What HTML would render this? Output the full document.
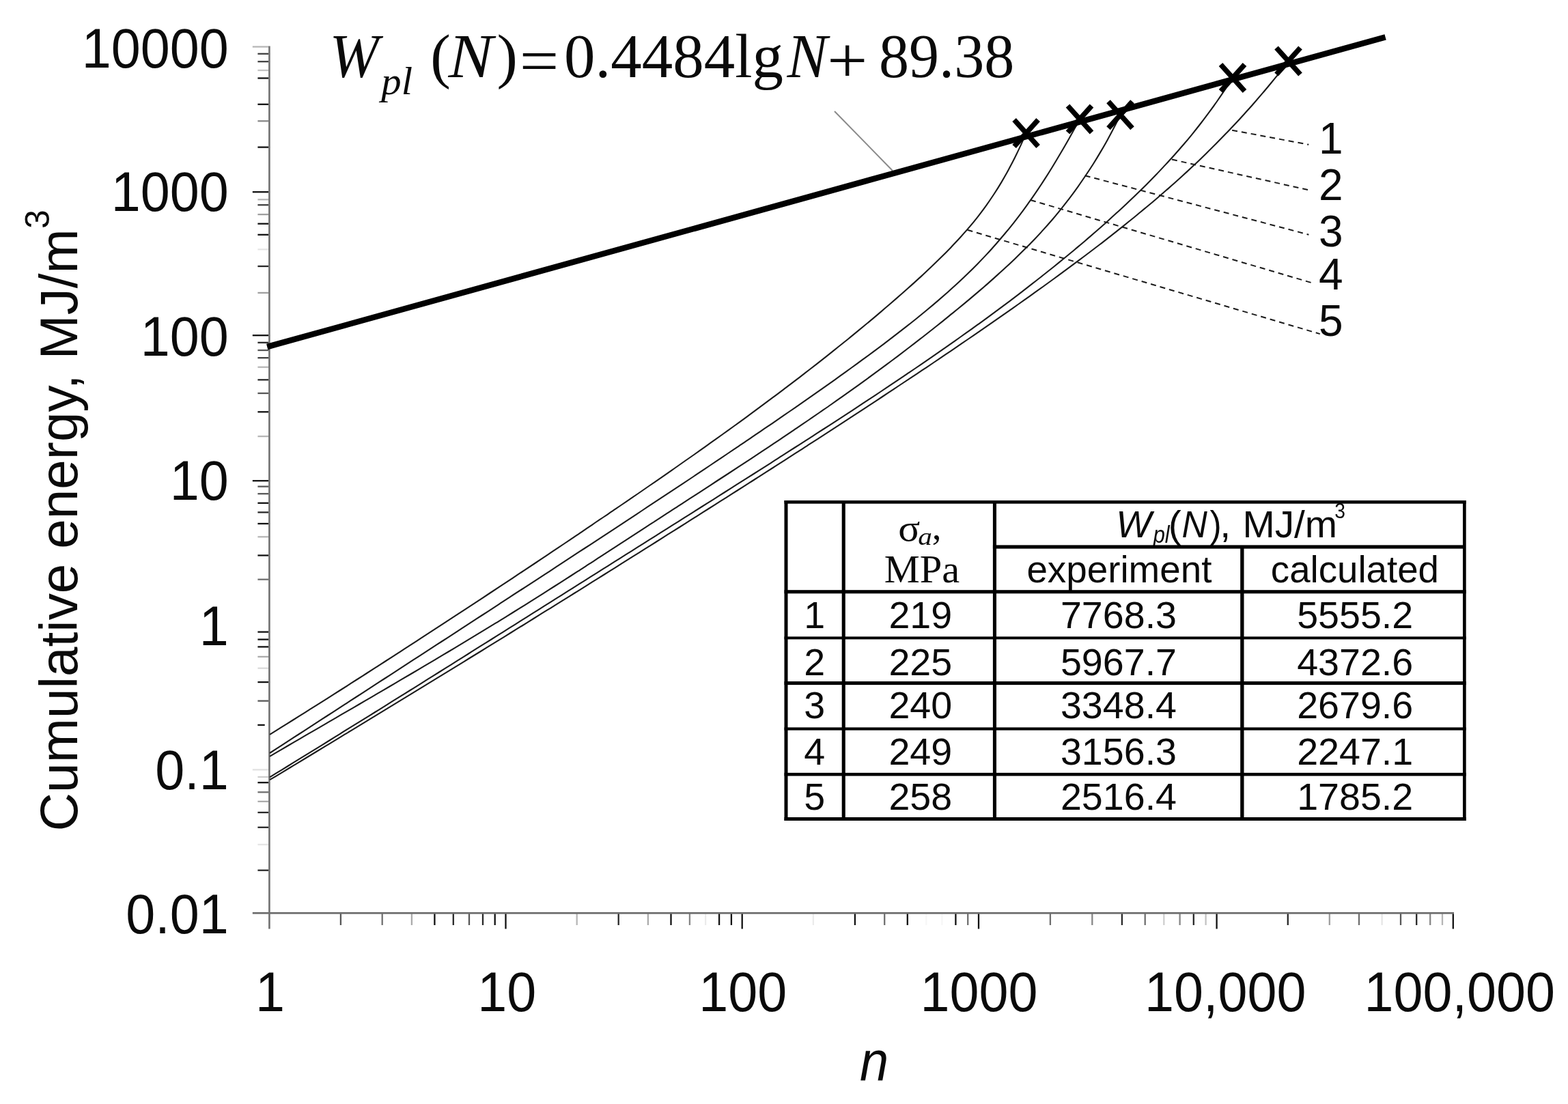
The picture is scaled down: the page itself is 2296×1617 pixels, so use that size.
<!DOCTYPE html>
<html lang="en">
<head>
<meta charset="utf-8">
<title>Cumulative energy vs number of cycles</title>
<style>
html,body{margin:0;padding:0;background:#fff;}
body{width:2296px;height:1617px;}
svg{display:block;}
text{fill:#0a0a0a;}
</style>
</head>
<body>
<svg width="2296" height="1617" viewBox="0 0 2296 1617">
<defs>
<clipPath id="hdr"><rect x="1459" y="737" width="683" height="62"/></clipPath>
</defs>
<rect width="2296" height="1617" fill="#fff"/>
<line x1="369.8" y1="68.5" x2="393.3" y2="68.5" stroke="#111" stroke-width="2.3" opacity="0.3"/>
<line x1="377.4" y1="78.8" x2="393.3" y2="78.8" stroke="#111" stroke-width="2.3" opacity="0.8"/>
<line x1="377.4" y1="90.2" x2="393.3" y2="90.2" stroke="#111" stroke-width="2.3" opacity="0.8"/>
<line x1="377.4" y1="103" x2="393.3" y2="103" stroke="#111" stroke-width="2.3" opacity="0.25"/>
<line x1="377.4" y1="114.5" x2="393.3" y2="114.5" stroke="#111" stroke-width="2.3" opacity="1"/>
<line x1="377.4" y1="152.8" x2="393.3" y2="152.8" stroke="#111" stroke-width="2.3" opacity="1"/>
<line x1="377.4" y1="177.3" x2="393.3" y2="177.3" stroke="#111" stroke-width="2.3" opacity="0.5"/>
<line x1="377.4" y1="215.6" x2="393.3" y2="215.6" stroke="#111" stroke-width="2.3" opacity="1"/>
<line x1="369.8" y1="281.2" x2="393.3" y2="281.2" stroke="#111" stroke-width="2.3" opacity="1"/>
<line x1="377.4" y1="292.3" x2="393.3" y2="292.3" stroke="#111" stroke-width="2.3" opacity="0.3"/>
<line x1="377.4" y1="300.2" x2="393.3" y2="300.2" stroke="#111" stroke-width="2.3" opacity="0.8"/>
<line x1="377.4" y1="314.1" x2="393.3" y2="314.1" stroke="#111" stroke-width="2.3" opacity="0.4"/>
<line x1="377.4" y1="327.7" x2="393.3" y2="327.7" stroke="#111" stroke-width="2.3" opacity="1"/>
<line x1="377.4" y1="343.8" x2="393.3" y2="343.8" stroke="#111" stroke-width="2.3" opacity="1"/>
<line x1="377.4" y1="365.3" x2="393.3" y2="365.3" stroke="#111" stroke-width="2.3" opacity="0.1"/>
<line x1="377.4" y1="390" x2="393.3" y2="390" stroke="#111" stroke-width="2.3" opacity="0.9"/>
<line x1="377.4" y1="428.9" x2="393.3" y2="428.9" stroke="#111" stroke-width="2.3" opacity="0.4"/>
<line x1="369.8" y1="491.2" x2="393.3" y2="491.2" stroke="#111" stroke-width="2.3" opacity="1"/>
<line x1="377.4" y1="501.8" x2="393.3" y2="501.8" stroke="#111" stroke-width="2.3" opacity="0.9"/>
<line x1="377.4" y1="513" x2="393.3" y2="513" stroke="#111" stroke-width="2.3" opacity="0.7"/>
<line x1="377.4" y1="524.1" x2="393.3" y2="524.1" stroke="#111" stroke-width="2.3" opacity="0.8"/>
<line x1="377.4" y1="537.7" x2="393.3" y2="537.7" stroke="#111" stroke-width="2.3" opacity="0.3"/>
<line x1="377.4" y1="556.3" x2="393.3" y2="556.3" stroke="#111" stroke-width="2.3" opacity="0.9"/>
<line x1="377.4" y1="576" x2="393.3" y2="576" stroke="#111" stroke-width="2.3" opacity="0.7"/>
<line x1="377.4" y1="603.3" x2="393.3" y2="603.3" stroke="#111" stroke-width="2.3" opacity="1"/>
<line x1="377.4" y1="639.1" x2="393.3" y2="639.1" stroke="#111" stroke-width="2.3" opacity="0.3"/>
<line x1="369.8" y1="704.2" x2="393.3" y2="704.2" stroke="#111" stroke-width="2.3" opacity="1"/>
<line x1="377.4" y1="712.6" x2="393.3" y2="712.6" stroke="#111" stroke-width="2.3" opacity="0.7"/>
<line x1="377.4" y1="723.2" x2="393.3" y2="723.2" stroke="#111" stroke-width="2.3" opacity="0.7"/>
<line x1="377.4" y1="736.8" x2="393.3" y2="736.8" stroke="#111" stroke-width="2.3" opacity="1"/>
<line x1="377.4" y1="750.4" x2="393.3" y2="750.4" stroke="#111" stroke-width="2.3" opacity="0.9"/>
<line x1="377.4" y1="767" x2="393.3" y2="767" stroke="#111" stroke-width="2.3" opacity="1"/>
<line x1="377.4" y1="786.3" x2="393.3" y2="786.3" stroke="#111" stroke-width="2.3" opacity="0.3"/>
<line x1="377.4" y1="813.5" x2="393.3" y2="813.5" stroke="#111" stroke-width="2.3" opacity="1"/>
<line x1="377.4" y1="848.7" x2="393.3" y2="848.7" stroke="#111" stroke-width="2.3" opacity="0.6"/>
<line x1="377.4" y1="925.6" x2="393.3" y2="925.6" stroke="#111" stroke-width="2.3" opacity="1"/>
<line x1="377.4" y1="936.6" x2="393.3" y2="936.6" stroke="#111" stroke-width="2.3" opacity="1"/>
<line x1="377.4" y1="947.4" x2="393.3" y2="947.4" stroke="#111" stroke-width="2.3" opacity="1"/>
<line x1="377.4" y1="961.9" x2="393.3" y2="961.9" stroke="#111" stroke-width="2.3" opacity="0.35"/>
<line x1="377.4" y1="978.7" x2="393.3" y2="978.7" stroke="#111" stroke-width="2.3" opacity="0.15"/>
<line x1="377.4" y1="999.1" x2="393.3" y2="999.1" stroke="#111" stroke-width="2.3" opacity="1"/>
<line x1="377.4" y1="1026.6" x2="393.3" y2="1026.6" stroke="#111" stroke-width="2.3" opacity="0.7"/>
<line x1="377.3" y1="1061.9" x2="387.7" y2="1061.9" stroke="#111" stroke-width="2.3" opacity="1"/>
<line x1="369.8" y1="1127.4" x2="393.3" y2="1127.4" stroke="#111" stroke-width="2.3" opacity="0.12"/>
<line x1="377.4" y1="1138" x2="393.3" y2="1138" stroke="#111" stroke-width="2.3" opacity="0.2"/>
<line x1="377.4" y1="1146.2" x2="393.3" y2="1146.2" stroke="#111" stroke-width="2.3" opacity="1"/>
<line x1="377.4" y1="1160.3" x2="393.3" y2="1160.3" stroke="#111" stroke-width="2.3" opacity="0.6"/>
<line x1="377.4" y1="1173.9" x2="393.3" y2="1173.9" stroke="#111" stroke-width="2.3" opacity="0.35"/>
<line x1="377.4" y1="1190" x2="393.3" y2="1190" stroke="#111" stroke-width="2.3" opacity="0.9"/>
<line x1="377.4" y1="1211.8" x2="393.3" y2="1211.8" stroke="#111" stroke-width="2.3" opacity="0.9"/>
<line x1="377.4" y1="1237" x2="393.3" y2="1237" stroke="#111" stroke-width="2.3" opacity="0.1"/>
<line x1="377.4" y1="1274.7" x2="393.3" y2="1274.7" stroke="#111" stroke-width="2.3" opacity="0.9"/>
<line x1="740.5" y1="1337.4" x2="740.5" y2="1360.5" stroke="#111" stroke-width="2.3"/>
<line x1="1086.7" y1="1337.4" x2="1086.7" y2="1360.5" stroke="#111" stroke-width="2.3"/>
<line x1="1433.0" y1="1337.4" x2="1433.0" y2="1360.5" stroke="#111" stroke-width="2.3"/>
<line x1="1781.6" y1="1337.4" x2="1781.6" y2="1360.5" stroke="#111" stroke-width="2.3"/>
<line x1="2127.8" y1="1337.4" x2="2127.8" y2="1360.5" stroke="#111" stroke-width="2.3"/>
<line x1="498.9" y1="1337.4" x2="498.9" y2="1355" stroke="#111" stroke-width="2.3" opacity="0.7"/>
<line x1="559.7" y1="1337.4" x2="559.7" y2="1355" stroke="#111" stroke-width="2.3" opacity="0.6"/>
<line x1="602.9" y1="1337.4" x2="602.9" y2="1355" stroke="#111" stroke-width="2.3" opacity="0.35"/>
<line x1="636.4" y1="1337.4" x2="636.4" y2="1355" stroke="#111" stroke-width="2.3" opacity="1"/>
<line x1="663.8" y1="1337.4" x2="663.8" y2="1355" stroke="#111" stroke-width="2.3" opacity="0.9"/>
<line x1="687.0" y1="1337.4" x2="687.0" y2="1355" stroke="#111" stroke-width="2.3" opacity="0.7"/>
<line x1="707.0" y1="1337.4" x2="707.0" y2="1355" stroke="#111" stroke-width="2.3" opacity="0.9"/>
<line x1="724.7" y1="1337.4" x2="724.7" y2="1355" stroke="#111" stroke-width="2.3" opacity="1"/>
<line x1="844.7" y1="1337.4" x2="844.7" y2="1355" stroke="#111" stroke-width="2.3" opacity="0.3"/>
<line x1="905.7" y1="1337.4" x2="905.7" y2="1355" stroke="#111" stroke-width="2.3" opacity="0.9"/>
<line x1="948.9" y1="1337.4" x2="948.9" y2="1355" stroke="#111" stroke-width="2.3" opacity="0.35"/>
<line x1="982.5" y1="1337.4" x2="982.5" y2="1355" stroke="#111" stroke-width="2.3" opacity="1"/>
<line x1="1009.9" y1="1337.4" x2="1009.9" y2="1355" stroke="#111" stroke-width="2.3" opacity="0.5"/>
<line x1="1033.1" y1="1337.4" x2="1033.1" y2="1355" stroke="#111" stroke-width="2.3" opacity="0.08"/>
<line x1="1053.1" y1="1337.4" x2="1053.1" y2="1355" stroke="#111" stroke-width="2.3" opacity="1"/>
<line x1="1070.9" y1="1337.4" x2="1070.9" y2="1355" stroke="#111" stroke-width="2.3" opacity="1"/>
<line x1="1190.9" y1="1337.4" x2="1190.9" y2="1355" stroke="#111" stroke-width="2.3" opacity="0.08"/>
<line x1="1251.9" y1="1337.4" x2="1251.9" y2="1355" stroke="#111" stroke-width="2.3" opacity="1"/>
<line x1="1295.2" y1="1337.4" x2="1295.2" y2="1355" stroke="#111" stroke-width="2.3" opacity="0.6"/>
<line x1="1328.8" y1="1337.4" x2="1328.8" y2="1355" stroke="#111" stroke-width="2.3" opacity="1"/>
<line x1="1356.2" y1="1337.4" x2="1356.2" y2="1355" stroke="#111" stroke-width="2.3" opacity="0.03"/>
<line x1="1379.4" y1="1337.4" x2="1379.4" y2="1355" stroke="#111" stroke-width="2.3" opacity="0.03"/>
<line x1="1399.4" y1="1337.4" x2="1399.4" y2="1355" stroke="#111" stroke-width="2.3" opacity="1"/>
<line x1="1417.2" y1="1337.4" x2="1417.2" y2="1355" stroke="#111" stroke-width="2.3" opacity="0.6"/>
<line x1="1537.9" y1="1337.4" x2="1537.9" y2="1355" stroke="#111" stroke-width="2.3" opacity="0.6"/>
<line x1="1599.3" y1="1337.4" x2="1599.3" y2="1355" stroke="#111" stroke-width="2.3" opacity="0.5"/>
<line x1="1642.9" y1="1337.4" x2="1642.9" y2="1355" stroke="#111" stroke-width="2.3" opacity="0.9"/>
<line x1="1676.7" y1="1337.4" x2="1676.7" y2="1355" stroke="#111" stroke-width="2.3" opacity="0.6"/>
<line x1="1704.3" y1="1337.4" x2="1704.3" y2="1355" stroke="#111" stroke-width="2.3" opacity="0.2"/>
<line x1="1727.6" y1="1337.4" x2="1727.6" y2="1355" stroke="#111" stroke-width="2.3" opacity="0.5"/>
<line x1="1747.8" y1="1337.4" x2="1747.8" y2="1355" stroke="#111" stroke-width="2.3" opacity="0.9"/>
<line x1="1765.6" y1="1337.4" x2="1765.6" y2="1355" stroke="#111" stroke-width="2.3" opacity="0.25"/>
<line x1="1885.8" y1="1337.4" x2="1885.8" y2="1355" stroke="#111" stroke-width="2.3" opacity="0.9"/>
<line x1="1946.8" y1="1337.4" x2="1946.8" y2="1355" stroke="#111" stroke-width="2.3" opacity="0.4"/>
<line x1="1990.0" y1="1337.4" x2="1990.0" y2="1355" stroke="#111" stroke-width="2.3" opacity="0.6"/>
<line x1="2023.6" y1="1337.4" x2="2023.6" y2="1355" stroke="#111" stroke-width="2.3" opacity="0.1"/>
<line x1="2051.0" y1="1337.4" x2="2051.0" y2="1355" stroke="#111" stroke-width="2.3" opacity="0.7"/>
<line x1="2074.2" y1="1337.4" x2="2074.2" y2="1355" stroke="#111" stroke-width="2.3" opacity="0.9"/>
<line x1="2094.2" y1="1337.4" x2="2094.2" y2="1355" stroke="#111" stroke-width="2.3" opacity="0.5"/>
<line x1="2112.0" y1="1337.4" x2="2112.0" y2="1355" stroke="#111" stroke-width="2.3" opacity="0.3"/>
<line x1="394.4" y1="67.5" x2="394.4" y2="1360.5" stroke="#707070" stroke-width="2.6"/>
<line x1="369.8" y1="1337.4" x2="2129" y2="1337.4" stroke="#707070" stroke-width="2.6"/>
<path d="M395.0,1075.9 C397.9,1074.1 406.4,1068.8 412.1,1065.2 C417.8,1061.6 423.5,1058.1 429.2,1054.5 C434.9,1050.9 440.5,1047.4 446.2,1043.8 C451.9,1040.2 457.5,1036.7 463.2,1033.1 C468.9,1029.5 474.6,1025.9 480.3,1022.3 C486.0,1018.7 491.6,1015.1 497.3,1011.5 C503.0,1007.9 508.6,1004.3 514.2,1000.7 C519.9,997.1 525.5,993.4 531.2,989.8 C536.9,986.2 542.6,982.5 548.2,978.9 C553.9,975.3 559.5,971.6 565.1,968.0 C570.7,964.4 576.4,960.7 582.0,957.1 C587.6,953.5 593.3,949.9 598.9,946.2 C604.5,942.6 610.2,938.9 615.8,935.2 C621.4,931.5 627.1,927.9 632.7,924.2 C638.3,920.5 644.0,916.9 649.6,913.2 C655.2,909.5 660.8,905.9 666.4,902.2 C672.0,898.5 677.7,894.9 683.3,891.2 C688.9,887.5 694.5,883.8 700.1,880.1 C705.7,876.4 711.3,872.7 716.9,869.0 C722.5,865.3 728.1,861.6 733.7,857.9 C739.3,854.2 744.9,850.5 750.5,846.8 C756.1,843.1 761.7,839.3 767.3,835.6 C772.9,831.9 778.5,828.2 784.1,824.5 C789.7,820.8 795.2,817.0 800.8,813.3 C806.4,809.6 811.9,805.8 817.5,802.1 C823.1,798.4 828.7,794.6 834.3,790.9 C839.9,787.1 845.5,783.4 851.0,779.6 C856.5,775.8 862.1,772.1 867.6,768.3 C873.1,764.5 878.7,760.8 884.3,757.0 C889.9,753.2 895.5,749.5 901.0,745.7 C906.5,741.9 912.1,738.1 917.6,734.3 C923.1,730.5 928.7,726.8 934.2,723.0 C939.7,719.2 945.3,715.3 950.8,711.5 C956.3,707.7 961.9,703.9 967.4,700.1 C972.9,696.3 978.4,692.5 983.9,688.6 C989.4,684.8 994.9,680.9 1000.4,677.0 C1005.9,673.1 1011.4,669.4 1016.9,665.5 C1022.4,661.6 1027.8,657.7 1033.3,653.8 C1038.8,649.9 1044.2,646.0 1049.7,642.1 C1055.2,638.2 1060.6,634.3 1066.1,630.4 C1071.5,626.5 1077.0,622.5 1082.4,618.6 C1087.8,614.7 1093.3,610.7 1098.7,606.7 C1104.1,602.7 1109.5,598.7 1114.9,594.7 C1120.3,590.7 1125.6,586.7 1131.0,582.7 C1136.4,578.7 1141.7,574.7 1147.1,570.6 C1152.5,566.5 1157.9,562.5 1163.2,558.4 C1168.5,554.3 1173.8,550.3 1179.1,546.2 C1184.4,542.1 1189.7,537.9 1195.0,533.8 C1200.3,529.6 1205.6,525.5 1210.9,521.3 C1216.2,517.1 1221.4,513.0 1226.6,508.8 C1231.8,504.6 1237.1,500.4 1242.3,496.2 C1247.5,492.0 1252.7,487.7 1257.9,483.4 C1263.1,479.1 1268.2,474.9 1273.4,470.6 C1278.6,466.3 1283.7,462.0 1288.8,457.6 C1293.9,453.2 1299.0,448.9 1304.1,444.5 C1309.2,440.1 1314.2,435.7 1319.3,431.3 C1324.3,426.9 1329.4,422.4 1334.4,417.9 C1339.4,413.4 1344.4,408.9 1349.3,404.4 C1354.2,399.8 1359.2,395.2 1364.0,390.6 C1368.8,386.0 1373.6,381.3 1378.4,376.6 C1383.2,371.9 1387.9,367.1 1392.6,362.2 C1397.2,357.3 1401.8,352.5 1406.3,347.5 C1410.8,342.5 1415.3,337.5 1419.6,332.4 C1423.9,327.3 1428.2,322.1 1432.3,316.8 C1436.4,311.5 1440.5,306.1 1444.4,300.6 C1448.3,295.1 1452.0,289.6 1455.7,284.0 C1459.4,278.4 1463.0,272.7 1466.4,266.9 C1469.8,261.1 1473.1,255.3 1476.3,249.4 C1479.5,243.5 1482.7,237.5 1485.7,231.5 C1488.7,225.5 1491.6,219.5 1494.4,213.4 C1497.2,207.3 1501.3,198.2 1502.7,195.1" fill="none" stroke="#1a1a1a" stroke-width="2.1"/>
<path d="M395.0,1103.0 C397.8,1101.2 406.2,1095.7 411.8,1092.1 C417.4,1088.5 423.0,1084.8 428.6,1081.2 C434.2,1077.6 439.8,1073.9 445.4,1070.3 C451.0,1066.7 456.6,1063.0 462.2,1059.4 C467.8,1055.8 473.4,1052.1 479.0,1048.5 C484.6,1044.9 490.2,1041.2 495.8,1037.6 C501.4,1034.0 507.0,1030.3 512.6,1026.7 C518.2,1023.1 523.8,1019.4 529.4,1015.8 C535.0,1012.2 540.6,1008.5 546.2,1004.9 C551.8,1001.3 557.4,997.6 563.0,994.0 C568.6,990.4 574.2,986.7 579.8,983.1 C585.4,979.5 591.0,975.8 596.6,972.2 C602.2,968.6 607.7,964.9 613.3,961.3 C618.9,957.7 624.5,954.0 630.1,950.4 C635.7,946.8 641.3,943.1 646.9,939.5 C652.5,935.9 658.1,932.2 663.7,928.6 C669.3,925.0 674.9,921.2 680.5,917.6 C686.1,914.0 691.7,910.3 697.3,906.7 C702.9,903.1 708.5,899.4 714.1,895.8 C719.7,892.2 725.3,888.5 730.9,884.9 C736.5,881.2 742.0,877.5 747.6,873.9 C753.2,870.2 758.8,866.6 764.4,863.0 C770.0,859.4 775.6,855.8 781.2,852.1 C786.8,848.5 792.4,844.8 798.0,841.1 C803.6,837.5 809.1,833.9 814.7,830.2 C820.3,826.6 825.9,822.9 831.5,819.2 C837.1,815.5 842.6,811.9 848.2,808.2 C853.8,804.6 859.4,800.9 865.0,797.3 C870.6,793.6 876.1,790.0 881.7,786.3 C887.3,782.6 892.9,779.0 898.5,775.3 C904.1,771.6 909.6,768.0 915.2,764.3 C920.8,760.6 926.3,757.0 931.9,753.3 C937.5,749.6 943.0,745.9 948.6,742.2 C954.2,738.5 959.7,734.9 965.3,731.2 C970.9,727.5 976.4,723.8 982.0,720.1 C987.6,716.4 993.1,712.8 998.7,709.1 C1004.3,705.4 1009.9,701.7 1015.4,698.0 C1020.9,694.3 1026.5,690.5 1032.0,686.8 C1037.5,683.1 1043.2,679.4 1048.7,675.7 C1054.2,672.0 1059.8,668.2 1065.3,664.5 C1070.8,660.8 1076.4,657.0 1081.9,653.3 C1087.4,649.6 1093.0,645.9 1098.5,642.1 C1104.0,638.4 1109.5,634.5 1115.0,630.8 C1120.5,627.0 1126.1,623.4 1131.6,619.6 C1137.1,615.8 1142.6,612.0 1148.1,608.2 C1153.6,604.4 1159.1,600.6 1164.6,596.8 C1170.1,593.0 1175.5,589.2 1181.0,585.4 C1186.5,581.6 1191.9,577.7 1197.4,573.9 C1202.9,570.1 1208.3,566.3 1213.8,562.4 C1219.2,558.5 1224.7,554.6 1230.1,550.7 C1235.5,546.8 1240.9,542.9 1246.3,539.0 C1251.7,535.1 1257.1,531.1 1262.5,527.2 C1267.9,523.3 1273.2,519.4 1278.6,515.4 C1284.0,511.4 1289.4,507.4 1294.7,503.4 C1300.0,499.4 1305.3,495.3 1310.6,491.2 C1315.9,487.1 1321.2,483.0 1326.4,478.9 C1331.7,474.8 1336.9,470.7 1342.1,466.5 C1347.3,462.3 1352.5,458.1 1357.6,453.8 C1362.7,449.5 1367.8,445.2 1372.9,440.9 C1378.0,436.5 1383.0,432.1 1388.0,427.7 C1393.0,423.3 1397.9,418.8 1402.8,414.3 C1407.7,409.8 1412.5,405.1 1417.3,400.5 C1422.1,395.9 1426.8,391.2 1431.5,386.4 C1436.2,381.6 1440.9,376.8 1445.4,371.9 C1450.0,367.0 1454.4,362.0 1458.8,357.0 C1463.2,352.0 1467.5,346.9 1471.8,341.8 C1476.1,336.7 1480.3,331.5 1484.4,326.3 C1488.5,321.1 1492.6,315.8 1496.6,310.4 C1500.6,305.0 1504.4,299.6 1508.3,294.2 C1512.2,288.8 1516.0,283.2 1519.7,277.7 C1523.4,272.1 1527.1,266.5 1530.7,260.9 C1534.3,255.3 1537.8,249.7 1541.3,244.0 C1544.8,238.3 1548.2,232.6 1551.6,226.8 C1555.0,221.1 1558.4,215.3 1561.7,209.5 C1565.0,203.7 1568.3,197.8 1571.5,192.0 C1574.7,186.2 1579.4,177.3 1581.0,174.4" fill="none" stroke="#1a1a1a" stroke-width="2.1"/>
<path d="M395.0,1107.8 C397.9,1106.1 406.7,1101.0 412.5,1097.6 C418.3,1094.2 424.1,1090.8 429.9,1087.4 C435.7,1084.0 441.6,1080.6 447.4,1077.2 C453.2,1073.8 459.1,1070.5 464.9,1067.1 C470.7,1063.7 476.5,1060.3 482.3,1056.9 C488.1,1053.5 494.0,1050.1 499.8,1046.7 C505.6,1043.3 511.5,1040.0 517.3,1036.6 C523.1,1033.2 528.9,1029.8 534.7,1026.4 C540.5,1023.0 546.4,1019.6 552.2,1016.2 C558.0,1012.8 563.8,1009.4 569.6,1006.0 C575.4,1002.6 581.3,999.1 587.1,995.7 C592.9,992.3 598.7,988.9 604.5,985.5 C610.3,982.1 616.1,978.6 621.9,975.2 C627.7,971.8 633.5,968.4 639.3,964.9 C645.1,961.4 650.9,958.0 656.7,954.5 C662.5,951.0 668.2,947.6 674.0,944.1 C679.8,940.6 685.5,937.2 691.3,933.7 C697.1,930.2 702.9,926.7 708.6,923.2 C714.4,919.7 720.1,916.2 725.8,912.7 C731.5,909.2 737.3,905.7 743.0,902.1 C748.7,898.5 754.5,895.0 760.2,891.4 C765.9,887.8 771.7,884.3 777.4,880.7 C783.1,877.1 788.8,873.5 794.5,869.9 C800.2,866.3 805.8,862.6 811.5,859.0 C817.2,855.4 822.8,851.7 828.5,848.1 C834.2,844.5 839.8,840.9 845.5,837.2 C851.2,833.6 856.8,829.9 862.5,826.2 C868.2,822.5 873.9,818.9 879.5,815.2 C885.1,811.5 890.8,807.9 896.4,804.2 C902.0,800.5 907.8,796.9 913.4,793.2 C919.0,789.5 924.7,785.8 930.3,782.1 C935.9,778.4 941.6,774.8 947.2,771.1 C952.9,767.4 958.6,763.8 964.2,760.1 C969.9,756.4 975.5,752.8 981.1,749.1 C986.8,745.4 992.5,741.8 998.1,738.1 C1003.8,734.4 1009.4,730.8 1015.0,727.1 C1020.6,723.4 1026.3,719.8 1032.0,716.1 C1037.7,712.4 1043.2,708.7 1048.9,705.0 C1054.6,701.3 1060.2,697.7 1065.9,694.0 C1071.6,690.3 1077.2,686.6 1082.8,682.9 C1088.4,679.2 1094.1,675.5 1099.7,671.8 C1105.3,668.1 1110.9,664.4 1116.5,660.7 C1122.1,657.0 1127.8,653.1 1133.4,649.4 C1139.0,645.6 1144.6,642.0 1150.2,638.2 C1155.8,634.5 1161.3,630.7 1166.9,626.9 C1172.5,623.1 1178.0,619.3 1183.6,615.5 C1189.2,611.7 1194.8,607.8 1200.3,604.0 C1205.8,600.2 1211.4,596.4 1216.9,592.5 C1222.4,588.6 1227.9,584.8 1233.4,580.9 C1238.9,577.0 1244.4,573.1 1249.9,569.2 C1255.4,565.3 1260.8,561.4 1266.3,557.4 C1271.8,553.4 1277.2,549.4 1282.6,545.4 C1288.0,541.4 1293.5,537.4 1298.9,533.4 C1304.3,529.4 1309.6,525.4 1315.0,521.3 C1320.4,517.2 1325.8,513.1 1331.1,509.0 C1336.4,504.9 1341.8,500.8 1347.1,496.7 C1352.4,492.6 1357.7,488.4 1363.0,484.2 C1368.3,480.0 1373.6,475.8 1378.9,471.6 C1384.2,467.4 1389.4,463.1 1394.6,458.9 C1399.8,454.6 1405.0,450.4 1410.2,446.1 C1415.4,441.8 1420.6,437.5 1425.7,433.1 C1430.8,428.8 1436.0,424.4 1441.1,420.0 C1446.2,415.6 1451.2,411.1 1456.2,406.6 C1461.2,402.1 1466.2,397.7 1471.2,393.1 C1476.2,388.5 1481.1,383.9 1486.0,379.2 C1490.9,374.5 1495.6,369.9 1500.4,365.1 C1505.2,360.4 1509.9,355.6 1514.6,350.7 C1519.2,345.8 1523.8,340.9 1528.3,335.9 C1532.8,330.9 1537.3,325.8 1541.7,320.7 C1546.1,315.6 1550.3,310.4 1554.5,305.1 C1558.7,299.8 1562.9,294.5 1567.0,289.1 C1571.1,283.7 1575.0,278.3 1578.9,272.8 C1582.8,267.3 1586.5,261.8 1590.3,256.2 C1594.0,250.6 1597.8,244.9 1601.4,239.2 C1605.0,233.5 1608.5,227.7 1611.9,221.9 C1615.3,216.1 1618.7,210.3 1621.9,204.4 C1625.2,198.5 1628.3,192.6 1631.4,186.6 C1634.5,180.6 1639.0,171.5 1640.5,168.5" fill="none" stroke="#1a1a1a" stroke-width="2.1"/>
<path d="M395.0,1138.3 C397.9,1136.5 406.5,1131.3 412.2,1127.8 C417.9,1124.3 423.7,1120.7 429.4,1117.2 C435.1,1113.7 440.8,1110.1 446.5,1106.6 C452.2,1103.1 458.0,1099.6 463.7,1096.1 C469.4,1092.6 475.1,1089.0 480.8,1085.5 C486.5,1082.0 492.3,1078.3 498.0,1074.8 C503.7,1071.2 509.4,1067.7 515.1,1064.2 C520.8,1060.7 526.5,1057.1 532.2,1053.6 C537.9,1050.1 543.6,1046.5 549.3,1043.0 C555.0,1039.5 560.7,1035.9 566.4,1032.3 C572.1,1028.7 577.8,1025.2 583.5,1021.6 C589.2,1018.1 594.9,1014.5 600.6,1011.0 C606.3,1007.5 612.0,1003.9 617.7,1000.3 C623.4,996.7 629.1,993.2 634.8,989.6 C640.5,986.0 646.2,982.5 651.9,978.9 C657.6,975.3 663.3,971.8 669.0,968.2 C674.7,964.6 680.3,961.1 686.0,957.5 C691.7,953.9 697.4,950.3 703.1,946.7 C708.8,943.1 714.5,939.6 720.2,936.0 C725.9,932.4 731.5,928.9 737.2,925.3 C742.9,921.7 748.6,918.2 754.3,914.6 C760.0,911.0 765.6,907.4 771.3,903.8 C777.0,900.2 782.7,896.7 788.4,893.1 C794.1,889.5 799.7,885.9 805.4,882.3 C811.1,878.7 816.8,875.2 822.5,871.6 C828.2,868.0 833.8,864.4 839.5,860.8 C845.2,857.2 850.9,853.7 856.6,850.1 C862.3,846.5 867.9,842.9 873.6,839.3 C879.3,835.7 885.0,832.2 890.7,828.6 C896.4,825.0 902.0,821.4 907.7,817.8 C913.4,814.2 919.1,810.7 924.8,807.1 C930.5,803.5 936.1,799.9 941.8,796.3 C947.5,792.7 953.2,789.2 958.9,785.6 C964.6,782.0 970.2,778.4 975.9,774.8 C981.6,771.2 987.3,767.7 993.0,764.1 C998.7,760.5 1004.3,756.9 1010.0,753.3 C1015.7,749.7 1021.4,746.1 1027.1,742.5 C1032.8,738.9 1038.4,735.4 1044.1,731.8 C1049.8,728.2 1055.4,724.6 1061.1,721.0 C1066.8,717.4 1072.4,713.8 1078.1,710.2 C1083.8,706.6 1089.5,703.0 1095.2,699.4 C1100.9,695.8 1106.5,692.2 1112.2,688.6 C1117.9,685.0 1123.6,681.4 1129.2,677.8 C1134.8,674.2 1140.4,670.5 1146.1,666.9 C1151.8,663.3 1157.4,659.6 1163.1,656.0 C1168.8,652.4 1174.4,648.7 1180.1,645.1 C1185.8,641.5 1191.4,637.8 1197.0,634.2 C1202.6,630.6 1208.3,626.9 1213.9,623.3 C1219.5,619.6 1225.2,616.0 1230.8,612.3 C1236.4,608.6 1242.1,605.0 1247.7,601.3 C1253.3,597.6 1258.9,593.9 1264.5,590.2 C1270.1,586.5 1275.8,582.8 1281.4,579.1 C1287.0,575.4 1292.5,571.6 1298.1,567.9 C1303.7,564.2 1309.3,560.5 1314.9,556.7 C1320.5,553.0 1326.0,549.2 1331.6,545.4 C1337.1,541.6 1342.7,537.9 1348.2,534.1 C1353.8,530.3 1359.4,526.5 1364.9,522.7 C1370.4,518.9 1375.9,515.0 1381.4,511.2 C1386.9,507.3 1392.4,503.5 1397.9,499.6 C1403.4,495.7 1408.8,491.8 1414.3,487.9 C1419.8,484.0 1425.2,480.1 1430.7,476.2 C1436.2,472.3 1441.6,468.3 1447.0,464.3 C1452.4,460.3 1457.8,456.3 1463.2,452.3 C1468.6,448.3 1474.0,444.3 1479.4,440.3 C1484.8,436.3 1490.1,432.2 1495.4,428.1 C1500.7,424.0 1506.1,419.8 1511.4,415.7 C1516.7,411.6 1521.9,407.5 1527.2,403.3 C1532.5,399.1 1537.8,394.9 1543.0,390.7 C1548.2,386.5 1553.4,382.2 1558.6,378.0 C1563.8,373.8 1568.9,369.5 1574.1,365.2 C1579.2,360.9 1584.4,356.6 1589.5,352.2 C1594.6,347.8 1599.7,343.4 1604.8,339.0 C1609.9,334.6 1614.9,330.2 1619.9,325.7 C1624.9,321.2 1629.8,316.7 1634.8,312.1 C1639.8,307.6 1644.7,303.0 1649.6,298.4 C1654.5,293.8 1659.4,289.2 1664.2,284.5 C1669.0,279.8 1673.8,275.1 1678.6,270.4 C1683.3,265.6 1688.0,260.8 1692.7,256.0 C1697.4,251.2 1701.9,246.3 1706.5,241.4 C1711.1,236.5 1715.6,231.5 1720.1,226.5 C1724.6,221.5 1729.0,216.4 1733.4,211.3 C1737.8,206.2 1742.1,201.0 1746.3,195.8 C1750.5,190.6 1754.7,185.3 1758.8,180.0 C1762.9,174.7 1766.9,169.3 1770.9,163.9 C1774.9,158.5 1778.9,153.0 1782.7,147.5 C1786.5,142.0 1790.3,136.5 1794.0,130.9 C1797.7,125.3 1803.2,116.8 1805.0,114.0" fill="none" stroke="#1a1a1a" stroke-width="2.1"/>
<path d="M395.0,1142.2 C397.9,1140.5 406.6,1135.3 412.3,1131.8 C418.1,1128.3 423.8,1124.9 429.5,1121.4 C435.2,1117.9 440.9,1114.5 446.7,1111.0 C452.4,1107.5 458.2,1104.0 464.0,1100.5 C469.8,1097.0 475.5,1093.6 481.2,1090.1 C486.9,1086.6 492.6,1083.1 498.4,1079.6 C504.1,1076.1 510.0,1072.7 515.7,1069.2 C521.5,1065.7 527.2,1062.2 532.9,1058.7 C538.6,1055.2 544.4,1051.7 550.1,1048.2 C555.8,1044.7 561.6,1041.2 567.3,1037.7 C573.0,1034.2 578.8,1030.7 584.5,1027.2 C590.2,1023.7 596.0,1020.2 601.7,1016.7 C607.4,1013.2 613.2,1009.7 618.9,1006.2 C624.6,1002.7 630.3,999.2 636.0,995.7 C641.7,992.2 647.5,988.6 653.2,985.1 C658.9,981.6 664.7,978.1 670.4,974.6 C676.1,971.1 681.8,967.5 687.5,964.0 C693.2,960.5 699.0,957.0 704.7,953.5 C710.4,950.0 716.1,946.4 721.8,942.9 C727.5,939.4 733.3,935.8 739.0,932.3 C744.7,928.8 750.4,925.2 756.1,921.7 C761.8,918.2 767.5,914.7 773.2,911.1 C778.9,907.5 784.6,904.0 790.3,900.4 C796.0,896.8 801.8,893.3 807.5,889.8 C813.2,886.2 818.9,882.6 824.6,879.1 C830.3,875.6 835.9,872.0 841.6,868.5 C847.3,865.0 853.0,861.4 858.7,857.8 C864.4,854.2 870.1,850.7 875.8,847.1 C881.5,843.5 887.2,840.0 892.9,836.4 C898.6,832.8 904.2,829.3 909.9,825.7 C915.6,822.1 921.3,818.5 927.0,814.9 C932.7,811.3 938.4,807.8 944.1,804.2 C949.8,800.6 955.4,797.1 961.1,793.5 C966.8,789.9 972.4,786.3 978.1,782.7 C983.8,779.1 989.5,775.6 995.2,772.0 C1000.9,768.4 1006.5,764.8 1012.2,761.2 C1017.9,757.6 1023.5,754.0 1029.2,750.4 C1034.9,746.8 1040.6,743.2 1046.3,739.6 C1052.0,736.0 1057.6,732.4 1063.3,728.8 C1069.0,725.2 1074.6,721.6 1080.3,718.0 C1086.0,714.4 1091.6,710.8 1097.3,707.2 C1103.0,703.6 1108.5,699.9 1114.2,696.3 C1119.9,692.7 1125.5,689.1 1131.2,685.5 C1136.9,681.9 1142.6,678.2 1148.2,674.6 C1153.8,671.0 1159.5,667.3 1165.1,663.7 C1170.7,660.1 1176.3,656.4 1182.0,652.8 C1187.7,649.1 1193.3,645.4 1199.0,641.8 C1204.7,638.1 1210.3,634.5 1215.9,630.9 C1221.5,627.2 1227.2,623.6 1232.8,619.9 C1238.4,616.2 1244.0,612.6 1249.6,608.9 C1255.2,605.2 1260.9,601.5 1266.5,597.8 C1272.1,594.1 1277.7,590.5 1283.3,586.8 C1288.9,583.1 1294.5,579.4 1300.1,575.7 C1305.7,572.0 1311.3,568.2 1316.9,564.5 C1322.5,560.8 1328.1,557.1 1333.7,553.4 C1339.3,549.7 1344.9,545.9 1350.5,542.2 C1356.1,538.5 1361.6,534.8 1367.2,531.0 C1372.8,527.2 1378.3,523.5 1383.9,519.7 C1389.5,515.9 1395.0,512.2 1400.6,508.4 C1406.1,504.6 1411.7,500.8 1417.2,497.0 C1422.7,493.2 1428.3,489.4 1433.8,485.6 C1439.3,481.8 1444.9,477.9 1450.4,474.1 C1455.9,470.3 1461.4,466.4 1466.9,462.6 C1472.4,458.8 1477.9,455.0 1483.4,451.1 C1488.9,447.2 1494.4,443.3 1499.9,439.4 C1505.4,435.5 1510.8,431.6 1516.3,427.7 C1521.8,423.8 1527.2,419.9 1532.6,416.0 C1538.0,412.1 1543.5,408.1 1548.9,404.1 C1554.3,400.1 1559.7,396.2 1565.1,392.2 C1570.5,388.2 1575.9,384.1 1581.3,380.1 C1586.7,376.1 1592.1,372.1 1597.4,368.0 C1602.8,363.9 1608.1,359.9 1613.4,355.8 C1618.7,351.7 1624.0,347.5 1629.3,343.4 C1634.6,339.2 1639.8,335.1 1645.1,330.9 C1650.3,326.7 1655.6,322.4 1660.8,318.2 C1666.0,313.9 1671.1,309.7 1676.3,305.4 C1681.5,301.1 1686.7,296.9 1691.8,292.5 C1696.9,288.1 1702.0,283.7 1707.0,279.3 C1712.0,274.9 1717.1,270.5 1722.1,266.0 C1727.1,261.5 1732.1,256.9 1737.1,252.4 C1742.0,247.8 1746.9,243.3 1751.8,238.7 C1756.7,234.1 1761.5,229.4 1766.3,224.7 C1771.1,220.0 1775.9,215.3 1780.6,210.5 C1785.3,205.7 1790.0,200.9 1794.7,196.1 C1799.4,191.3 1804.0,186.4 1808.6,181.5 C1813.2,176.6 1817.7,171.7 1822.2,166.7 C1826.7,161.7 1831.2,156.8 1835.6,151.7 C1840.0,146.6 1844.4,141.5 1848.8,136.4 C1853.2,131.3 1857.4,126.2 1861.7,121.0 C1866.0,115.8 1870.3,110.6 1874.5,105.4 C1878.7,100.2 1884.9,92.2 1887.0,89.6" fill="none" stroke="#1a1a1a" stroke-width="2.1"/>
<line x1="1804.1" y1="190.7" x2="1916.3" y2="211.8" stroke="#1a1a1a" stroke-width="2.0" stroke-dasharray="8 6"/>
<line x1="1715.9" y1="233.6" x2="1916.3" y2="278.3" stroke="#1a1a1a" stroke-width="2.0" stroke-dasharray="8 6"/>
<line x1="1588.7" y1="257.2" x2="1916.4" y2="343.7" stroke="#1a1a1a" stroke-width="2.0" stroke-dasharray="8 6"/>
<line x1="1509" y1="293" x2="1925.2" y2="415.5" stroke="#1a1a1a" stroke-width="2.0" stroke-dasharray="8 6"/>
<line x1="1416.5" y1="336.8" x2="1932.8" y2="489.1" stroke="#1a1a1a" stroke-width="2.0" stroke-dasharray="8 6"/>
<line x1="1222" y1="163" x2="1307" y2="250" stroke="#8a8a8a" stroke-width="2"/>
<line x1="391.2" y1="508.0" x2="2028.6" y2="54.4" stroke="#000" stroke-width="8.6"/>
<path d="M1485.1,175.5 L1520.1,214.5 M1485.1,214.5 L1520.1,175.5" stroke="#000" stroke-width="7.5" fill="none"/>
<path d="M1563.5,154.9 L1598.5,193.9 M1563.5,193.9 L1598.5,154.9" stroke="#000" stroke-width="7.5" fill="none"/>
<path d="M1623.0,148.8 L1658.0,187.8 M1623.0,187.8 L1658.0,148.8" stroke="#000" stroke-width="7.5" fill="none"/>
<path d="M1787.5,94.5 L1822.5,133.5 M1787.5,133.5 L1822.5,94.5" stroke="#000" stroke-width="7.5" fill="none"/>
<path d="M1869.0,70.0 L1904.0,109.0 M1869.0,109.0 L1904.0,70.0" stroke="#000" stroke-width="7.5" fill="none"/>
<text transform="translate(334.80,98.70) scale(1.0000,1.0500)" font-family='"Liberation Sans", Arial, Helvetica, sans-serif' font-size="77.3" text-anchor="end">10000</text>
<text transform="translate(334.80,309.35) scale(1.0000,1.0500)" font-family='"Liberation Sans", Arial, Helvetica, sans-serif' font-size="77.3" text-anchor="end">1000</text>
<text transform="translate(334.80,520.70) scale(1.0000,1.0500)" font-family='"Liberation Sans", Arial, Helvetica, sans-serif' font-size="77.3" text-anchor="end">100</text>
<text transform="translate(334.80,731.70) scale(1.0000,1.0500)" font-family='"Liberation Sans", Arial, Helvetica, sans-serif' font-size="77.3" text-anchor="end">10</text>
<text transform="translate(334.80,945.40) scale(1.0000,1.0500)" font-family='"Liberation Sans", Arial, Helvetica, sans-serif' font-size="77.3" text-anchor="end">1</text>
<text transform="translate(334.80,1155.90) scale(1.0000,1.0500)" font-family='"Liberation Sans", Arial, Helvetica, sans-serif' font-size="77.3" text-anchor="end">0.1</text>
<text transform="translate(334.80,1367.00) scale(1.0000,1.0500)" font-family='"Liberation Sans", Arial, Helvetica, sans-serif' font-size="77.3" text-anchor="end">0.01</text>
<text transform="translate(395.40,1480.50) scale(1.0000,1.0500)" font-family='"Liberation Sans", Arial, Helvetica, sans-serif' font-size="77.3" text-anchor="middle">1</text>
<text transform="translate(742.20,1480.50) scale(1.0000,1.0500)" font-family='"Liberation Sans", Arial, Helvetica, sans-serif' font-size="77.3" text-anchor="middle">10</text>
<text transform="translate(1087.70,1480.50) scale(1.0000,1.0500)" font-family='"Liberation Sans", Arial, Helvetica, sans-serif' font-size="77.3" text-anchor="middle">100</text>
<text transform="translate(1433.50,1480.50) scale(1.0000,1.0500)" font-family='"Liberation Sans", Arial, Helvetica, sans-serif' font-size="77.3" text-anchor="middle">1000</text>
<text transform="translate(1794.30,1480.50) scale(1.0000,1.0500)" font-family='"Liberation Sans", Arial, Helvetica, sans-serif' font-size="77.3" text-anchor="middle">10,000</text>
<text transform="translate(2137.30,1480.50) scale(1.0000,1.0500)" font-family='"Liberation Sans", Arial, Helvetica, sans-serif' font-size="77.3" text-anchor="middle">100,000</text>
<text transform="translate(1931.00,225.00)" font-family='"Liberation Sans", Arial, Helvetica, sans-serif' font-size="64">1</text>
<text transform="translate(1931.00,293.00)" font-family='"Liberation Sans", Arial, Helvetica, sans-serif' font-size="64">2</text>
<text transform="translate(1931.00,361.00)" font-family='"Liberation Sans", Arial, Helvetica, sans-serif' font-size="64">3</text>
<text transform="translate(1931.00,423.80)" font-family='"Liberation Sans", Arial, Helvetica, sans-serif' font-size="64">4</text>
<text transform="translate(1931.00,492.00)" font-family='"Liberation Sans", Arial, Helvetica, sans-serif' font-size="64">5</text>
<text transform="translate(112.80,1217.50) rotate(-90)" font-family='"Liberation Sans", Arial, Helvetica, sans-serif' font-size="78.35">Cumulative energy, MJ/m</text>
<text transform="translate(72.20,335.00) rotate(-90)" font-family='"Liberation Sans", Arial, Helvetica, sans-serif' font-size="50">3</text>
<text transform="translate(1259.12,1581.60) scale(0.9358,1.0000)" font-family='"Liberation Sans", Arial, Helvetica, sans-serif' font-size="81" font-style="italic">n</text>
<text transform="translate(482.58,113.30) scale(0.9423,1.0000)" font-family='"Liberation Serif", "Times New Roman", Times, serif' font-size="92" font-style="italic">W</text>
<text transform="translate(558.37,138.20) scale(1.0480,1.0000)" font-family='"Liberation Serif", "Times New Roman", Times, serif' font-size="56" font-style="italic">pl</text>
<text transform="translate(630.22,111.80) scale(0.9961,1.0000)" font-family='"Liberation Serif", "Times New Roman", Times, serif' font-size="89.24">(</text>
<text transform="translate(656.53,113.30) scale(1.0657,1.0000)" font-family='"Liberation Serif", "Times New Roman", Times, serif' font-size="92" font-style="italic">N</text>
<text transform="translate(727.44,111.80) scale(1.0251,1.0000)" font-family='"Liberation Serif", "Times New Roman", Times, serif' font-size="89.24">)</text>
<text transform="translate(760.71,119.80) scale(1.1107,1.0000)" font-family='"Liberation Serif", "Times New Roman", Times, serif' font-size="92">=</text>
<text transform="translate(825.96,113.30) scale(0.9889,1.0000)" font-family='"Liberation Serif", "Times New Roman", Times, serif' font-size="92">0.4484lg</text>
<text transform="translate(1152.38,113.30) scale(0.9621,1.0000)" font-family='"Liberation Serif", "Times New Roman", Times, serif' font-size="92" font-style="italic">N</text>
<text transform="translate(1211.06,120.30) scale(1.0978,1.0000)" font-family='"Liberation Serif", "Times New Roman", Times, serif' font-size="96">+</text>
<text transform="translate(1286.94,113.30) scale(0.9585,1.0000)" font-family='"Liberation Serif", "Times New Roman", Times, serif' font-size="92">89.38</text>
<rect x="1148.5" y="733" width="998.1999999999998" height="469" fill="#fff"/>
<text transform="translate(1315.24,792.00) scale(1.0800,1.0000)" font-family='"Liberation Serif", "Times New Roman", Times, serif' font-size="55">σ</text>
<text transform="translate(1344.26,797.80) scale(1.1464,1.0000)" font-family='"Liberation Serif", "Times New Roman", Times, serif' font-size="36" font-style="italic">a</text>
<text transform="translate(1364.78,790.00)" font-family='"Liberation Serif", "Times New Roman", Times, serif' font-size="55">,</text>
<text transform="translate(1294.69,852.50) scale(1.0171,1.0000)" font-family='"Liberation Serif", "Times New Roman", Times, serif' font-size="57.5">MPa</text>
<g clip-path="url(#hdr)"><text transform="translate(1634.20,787.00) scale(0.9800,1.0000)" font-family='"Liberation Sans", Arial, Helvetica, sans-serif' font-size="56.1" font-style="italic">W</text></g>
<g clip-path="url(#hdr)"><text transform="translate(1688.66,795.00) scale(0.8679,1.0000)" font-family='"Liberation Sans", Arial, Helvetica, sans-serif' font-size="35.5" font-style="italic">pl</text></g>
<g clip-path="url(#hdr)"><text transform="translate(1710.82,787.00) scale(1.0204,1.0000)" font-family='"Liberation Sans", Arial, Helvetica, sans-serif' font-size="56.1">(</text></g>
<g clip-path="url(#hdr)"><text transform="translate(1730.39,787.00) scale(0.9201,1.0000)" font-family='"Liberation Sans", Arial, Helvetica, sans-serif' font-size="56.1" font-style="italic">N</text></g>
<g clip-path="url(#hdr)"><text transform="translate(1771.50,787.00) scale(0.9190,1.0000)" font-family='"Liberation Sans", Arial, Helvetica, sans-serif' font-size="56.1">)</text></g>
<g clip-path="url(#hdr)"><text transform="translate(1786.30,787.00) scale(1.0267,1.0000)" font-family='"Liberation Sans", Arial, Helvetica, sans-serif' font-size="56.1">,</text></g>
<g clip-path="url(#hdr)"><text transform="translate(1819.47,787.00) scale(1.0115,1.0000)" font-family='"Liberation Sans", Arial, Helvetica, sans-serif' font-size="56.1">MJ/m</text></g>
<g clip-path="url(#hdr)"><text transform="translate(1954.32,759.40) scale(0.8839,1.0000)" font-family='"Liberation Sans", Arial, Helvetica, sans-serif' font-size="32">3</text></g>
<text transform="translate(1503.39,852.60) scale(0.9858,1.0000)" font-family='"Liberation Sans", Arial, Helvetica, sans-serif' font-size="55.6">experiment</text>
<text transform="translate(1860.79,852.60) scale(0.9837,1.0000)" font-family='"Liberation Sans", Arial, Helvetica, sans-serif' font-size="55.6">calculated</text>
<text transform="translate(1192.60,920.20)" font-family='"Liberation Sans", Arial, Helvetica, sans-serif' font-size="55.6" text-anchor="middle">1</text>
<text transform="translate(1394.20,920.20)" font-family='"Liberation Sans", Arial, Helvetica, sans-serif' font-size="55.6" text-anchor="end">219</text>
<text transform="translate(1723.00,920.20)" font-family='"Liberation Sans", Arial, Helvetica, sans-serif' font-size="55.6" text-anchor="end">7768.3</text>
<text transform="translate(2069.20,920.20)" font-family='"Liberation Sans", Arial, Helvetica, sans-serif' font-size="55.6" text-anchor="end">5555.2</text>
<text transform="translate(1192.60,988.90)" font-family='"Liberation Sans", Arial, Helvetica, sans-serif' font-size="55.6" text-anchor="middle">2</text>
<text transform="translate(1394.20,988.90)" font-family='"Liberation Sans", Arial, Helvetica, sans-serif' font-size="55.6" text-anchor="end">225</text>
<text transform="translate(1723.00,988.90)" font-family='"Liberation Sans", Arial, Helvetica, sans-serif' font-size="55.6" text-anchor="end">5967.7</text>
<text transform="translate(2069.20,988.90)" font-family='"Liberation Sans", Arial, Helvetica, sans-serif' font-size="55.6" text-anchor="end">4372.6</text>
<text transform="translate(1192.60,1052.30)" font-family='"Liberation Sans", Arial, Helvetica, sans-serif' font-size="55.6" text-anchor="middle">3</text>
<text transform="translate(1394.20,1052.30)" font-family='"Liberation Sans", Arial, Helvetica, sans-serif' font-size="55.6" text-anchor="end">240</text>
<text transform="translate(1723.00,1052.30)" font-family='"Liberation Sans", Arial, Helvetica, sans-serif' font-size="55.6" text-anchor="end">3348.4</text>
<text transform="translate(2069.20,1052.30)" font-family='"Liberation Sans", Arial, Helvetica, sans-serif' font-size="55.6" text-anchor="end">2679.6</text>
<text transform="translate(1192.60,1120.10)" font-family='"Liberation Sans", Arial, Helvetica, sans-serif' font-size="55.6" text-anchor="middle">4</text>
<text transform="translate(1394.20,1120.10)" font-family='"Liberation Sans", Arial, Helvetica, sans-serif' font-size="55.6" text-anchor="end">249</text>
<text transform="translate(1723.00,1120.10)" font-family='"Liberation Sans", Arial, Helvetica, sans-serif' font-size="55.6" text-anchor="end">3156.3</text>
<text transform="translate(2069.20,1120.10)" font-family='"Liberation Sans", Arial, Helvetica, sans-serif' font-size="55.6" text-anchor="end">2247.1</text>
<text transform="translate(1192.60,1186.20)" font-family='"Liberation Sans", Arial, Helvetica, sans-serif' font-size="55.6" text-anchor="middle">5</text>
<text transform="translate(1394.20,1186.20)" font-family='"Liberation Sans", Arial, Helvetica, sans-serif' font-size="55.6" text-anchor="end">258</text>
<text transform="translate(1723.00,1186.20)" font-family='"Liberation Sans", Arial, Helvetica, sans-serif' font-size="55.6" text-anchor="end">2516.4</text>
<text transform="translate(2069.20,1186.20)" font-family='"Liberation Sans", Arial, Helvetica, sans-serif' font-size="55.6" text-anchor="end">1785.2</text>
<rect x="1148.5" y="733" width="998.2" height="4.7" fill="#000"/>
<rect x="1148.5" y="1197" width="998.2" height="5" fill="#000"/>
<rect x="1148.5" y="733" width="5" height="469" fill="#000"/>
<rect x="2142" y="733" width="4.7" height="469" fill="#000"/>
<rect x="1232.7" y="733" width="5.1" height="469" fill="#000"/>
<rect x="1453.9" y="733" width="5.1" height="469" fill="#000"/>
<rect x="1816.2" y="799" width="5.3" height="403" fill="#000"/>
<rect x="1453.9" y="798.4" width="692" height="5.2" fill="#000"/>
<rect x="1148.5" y="864.2" width="998.2" height="5.1" fill="#000"/>
<rect x="1148.5" y="932.4" width="998.2" height="4" fill="#000"/>
<rect x="1148.5" y="998" width="998.2" height="5.1" fill="#000"/>
<rect x="1148.5" y="1065.4" width="998.2" height="4.2" fill="#000"/>
<rect x="1148.5" y="1131.9" width="998.2" height="4.6" fill="#000"/>
</svg>
</body>
</html>
